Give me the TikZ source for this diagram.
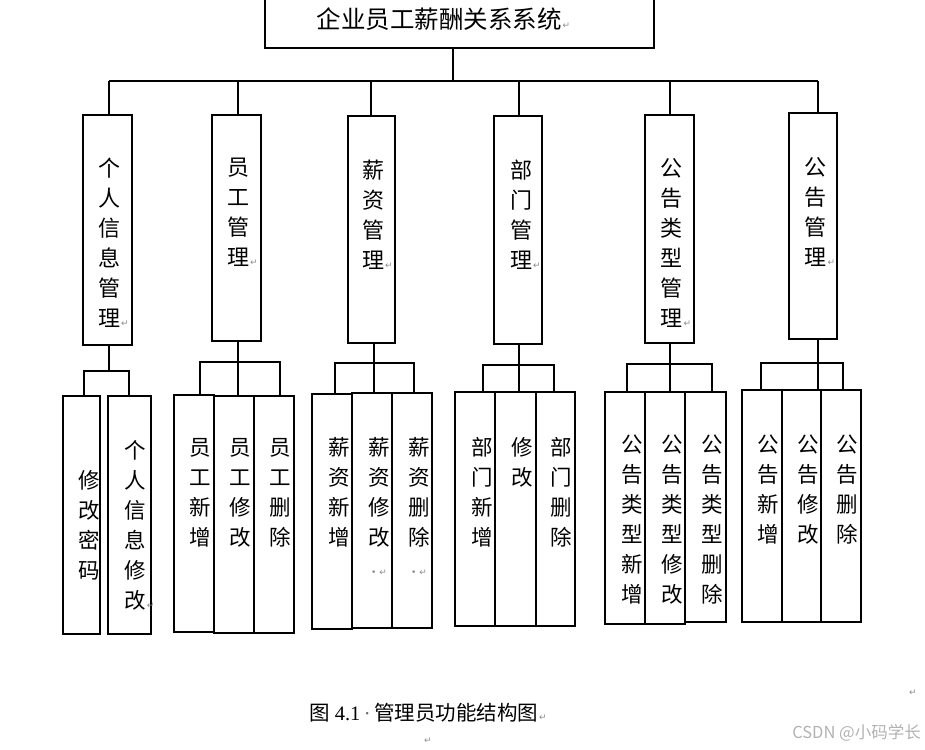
\documentclass[tikz,border=0pt]{standalone}
\usepackage{fontspec}
\setmainfont{Liberation Serif}
\newfontfamily\cjk{Noto Sans CJK SC}
\newfontfamily\dv{DejaVu Sans}
\newcommand{\pmk}{\rlap{\kern1pt{\dv\fontsize{9}{9}\selectfont\color{black!45}↵}}}
\newcommand{\dotmk}{{\dv\fontsize{9}{9}\selectfont\color{black!45}•\kern3pt↵}}
\begin{document}
\begin{tikzpicture}[x=1pt,y=-1pt,
  box/.style={draw, line width=2.4pt, inner sep=0pt},
  ln/.style={line width=2.4pt},
  vtext/.style={font=\cjk\fontsize{22}{30}\selectfont, align=center, anchor=north, inner sep=0pt},
  stext/.style={font=\cjk\fontsize{21.5}{30}\selectfont, align=center, anchor=north, inner sep=0pt}]
\useasboundingbox (0,0) rectangle (925,749);

% root
\node[box, minimum width=389, minimum height=58] (root) at (459.5,19) {};
\node[font=\cjk\fontsize{24.5}{24.5}\selectfont, inner sep=0pt] (rt) at (439,19) {企业员工薪酬关系系统\pmk};

% level 1 boxes
\node[box, minimum width=49, minimum height=230] (b1) at (107.5,230) {};
\node[box, minimum width=49, minimum height=226] (b2) at (236.5,228) {};
\node[box, minimum width=47, minimum height=227] (b3) at (371.5,229.5) {};
\node[box, minimum width=48, minimum height=228] (b4) at (518,230) {};
\node[box, minimum width=49, minimum height=228] (b5) at (669.5,229) {};
\node[box, minimum width=48, minimum height=226] (b6) at (813,226) {};

% level 1 connectors
\coordinate (bus) at (453,81);
\draw[ln] ([xshift=-6.5]root.south) -- (bus);
\draw[ln] ([xshift=1.5]b1.north |- bus) -- ([xshift=5]b6.north |- bus);
\draw[ln] ([xshift=1.5]b1.north) -- ([xshift=1.5]b1.north |- bus);
\draw[ln] ([xshift=1.5]b2.north) -- ([xshift=1.5]b2.north |- bus);
\draw[ln] ([xshift=-0.5]b3.north) -- ([xshift=-0.5]b3.north |- bus);
\draw[ln] ([xshift=1]b4.north) -- ([xshift=1]b4.north |- bus);
\draw[ln] ([xshift=0.5]b5.north) -- ([xshift=0.5]b5.north |- bus);
\draw[ln] ([xshift=5]b6.north) -- ([xshift=5]b6.north |- bus);

% level 1 texts
\node[vtext] (t1) at (109,158) {个\\人\\信\\息\\管\\理\pmk};
\node[vtext] (t2) at (238,158) {员\\工\\管\\理\pmk};
\node[vtext] (t3) at (373,160) {薪\\资\\管\\理\pmk};
\node[vtext] (t4) at (521,160) {部\\门\\管\\理\pmk};
\node[vtext] (t5) at (671.5,158) {公\\告\\类\\型\\管\\理\pmk};
\node[vtext] (t6) at (815.5,157) {公\\告\\管\\理\pmk};

% level 2 boxes
\node[box, minimum width=37, minimum height=238] (a1) at (81.5,515) {};
\node[box, minimum width=43, minimum height=238] (a2) at (129.5,515) {};
\node[box, minimum width=40, minimum height=237] (c1) at (194,513.5) {};
\node[box, minimum width=40, minimum height=237] (c2) at (234,514.5) {};
\node[box, minimum width=40, minimum height=237] (c3) at (274,514.5) {};
\node[box, minimum width=40, minimum height=235] (d1) at (332,511.5) {};
\node[box, minimum width=40, minimum height=235] (d2) at (372,510.5) {};
\node[box, minimum width=40, minimum height=235] (d3) at (412,510.5) {};
\node[box, minimum width=40, minimum height=234] (e1) at (475,509) {};
\node[box, minimum width=41, minimum height=234] (e2) at (515.5,509) {};
\node[box, minimum width=39, minimum height=234] (e3) at (555.5,509) {};
\node[box, minimum width=40, minimum height=232] (f1) at (625,508) {};
\node[box, minimum width=40, minimum height=232] (f2) at (665,508) {};
\node[box, minimum width=41, minimum height=230] (f3) at (705.5,507) {};
\node[box, minimum width=40, minimum height=232] (g1) at (762,506) {};
\node[box, minimum width=39, minimum height=232] (g2) at (801.5,506) {};
\node[box, minimum width=40, minimum height=232] (g3) at (841,506) {};

% level 2 connectors
\coordinate (j1) at (109,371);
\coordinate (j2) at (238,362);
\coordinate (j3) at (374,363);
\coordinate (j4) at (519,365);
\coordinate (j5) at (670,364);
\coordinate (j6) at (818,363);
\draw[ln] ([xshift=1.5]b1.south) -- (j1);
\draw[ln] ([xshift=2.5]a1.north) |- (j1) -| ([xshift=-0.5]a2.north);
\draw[ln] ([xshift=6]c1.north) |- (j2) -| ([xshift=6]c3.north);
\draw[ln] ([xshift=1.5]b2.south) -- ([xshift=4]c2.north);
\draw[ln] ([xshift=3]d1.north) |- (j3) -| ([xshift=2]d3.north);
\draw[ln] ([xshift=2.5]b3.south) -- ([xshift=2]d2.north);
\draw[ln] ([xshift=8]e1.north) |- (j4) -| ([xshift=-1.5]e3.north);
\draw[ln] ([xshift=1]b4.south) -- ([xshift=3.5]e2.north);
\draw[ln] ([xshift=2]f1.north) |- (j5) -| ([xshift=6.5]f3.north);
\draw[ln] ([xshift=0.5]b5.south) -- ([xshift=5]f2.north);
\draw[ln] ([xshift=-1]g1.north) |- (j6) -| ([xshift=2]g3.north);
\draw[ln] ([xshift=5]b6.south) -- ([xshift=16.5]g2.north);

% level 2 texts
\node[stext] (ta1) at (89,470) {修\\改\\密\\码};
\node[stext] (ta2) at (135,440) {个\\人\\信\\息\\修\\改\pmk};
\node[stext] (tc1) at (200,438) {员\\工\\新\\增};
\node[stext] (tc2) at (240,438) {员\\工\\修\\改};
\node[stext] (tc3) at (280.5,438) {员\\工\\删\\除};
\node[stext] (td1) at (339,437) {薪\\资\\新\\增};
\node[stext] (td2) at (379,437) {薪\\资\\修\\改\\\dotmk};
\node[stext] (td3) at (419,437) {薪\\资\\删\\除\\\dotmk};
\node[stext] (te1) at (482,437) {部\\门\\新\\增};
\node[stext] (te2) at (522,437) {修\\改};
\node[stext] (te3) at (561.5,437) {部\\门\\删\\除};
\node[stext] (tf1) at (632,435) {公\\告\\类\\型\\新\\增};
\node[stext] (tf2) at (672,435) {公\\告\\类\\型\\修\\改};
\node[stext] (tf3) at (712,435) {公\\告\\类\\型\\删\\除};
\node[stext] (tg1) at (768,435) {公\\告\\新\\增};
\node[stext] (tg2) at (808,435) {公\\告\\修\\改};
\node[stext] (tg3) at (847,435) {公\\告\\删\\除};

% caption and marks
\node[anchor=west, inner sep=0pt, font=\fontsize{20.5}{20.5}\selectfont] (cap) at (309,713)
  {{\cjk 图}\ 4.1\,{\color{black!60}·}\,{\cjk 管理员功能结构图}\pmk};
\node[inner sep=0pt] (m1) at (913,693) {{\dv\fontsize{9}{9}\selectfont\color{black!45}↵}};
\node[inner sep=0pt] (m2) at (428,741) {{\dv\fontsize{9}{9}\selectfont\color{black!45}↵}};
\node[anchor=east, inner sep=0pt, font=\cjk\fontsize{16.5}{16.5}\selectfont, text=black!30] (wm) at (921,733) {CSDN @小码学长};
\end{tikzpicture}
\end{document}
